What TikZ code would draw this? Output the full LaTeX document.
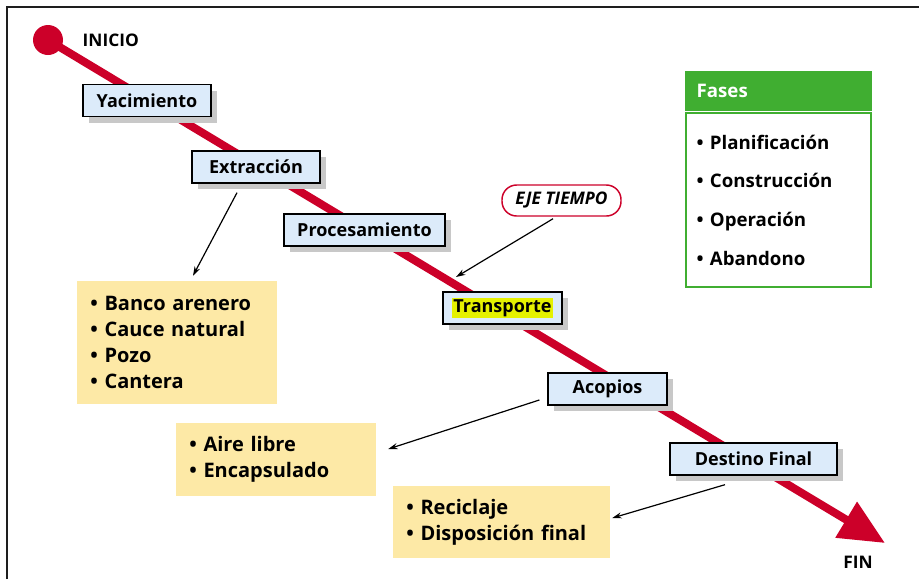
\documentclass[tikz,border=0pt]{standalone}
\usepackage{fontspec}
\setmainfont{Open Sans}
\usepackage{tikz}
\usetikzlibrary{calc,shadows,arrows.meta}

\definecolor{rojoeje}{RGB}{204,0,41}
\definecolor{azulclaro}{RGB}{220,235,250}
\definecolor{amarillo}{RGB}{253,233,166}
\definecolor{verdefases}{RGB}{64,174,49}
\definecolor{sombra}{RGB}{200,200,200}
\definecolor{resalte}{RGB}{229,241,0}

\begin{document}
\begin{tikzpicture}[x=0.75pt,y=0.75pt,yscale=-1,xscale=1,
  etapa/.style={draw=black, line width=1pt, fill=azulclaro, minimum height=24pt, inner sep=0pt,
    font=\fontsize{13.5}{15}\selectfont\bfseries,
    drop shadow={shadow xshift=4.5pt, shadow yshift=-4.5pt, fill=sombra, opacity=1}},
  lista/.style={fill=amarillo, inner xsep=10pt, inner ysep=0pt, align=left,
    font=\fontsize{15}{19.5}\selectfont\bfseries},
  flecha/.style={-{Stealth[length=7pt,width=4.5pt]}, line width=0.9pt},
  rotulo/.style={font=\fontsize{13}{15}\selectfont\bfseries}]
\useasboundingbox (0,0) rectangle (919,579);
%Straight Lines: frame
\draw [line width=1.5pt, color={rgb, 255:red, 30; green, 30; blue, 30}] (7,579) -- (7,7) -- (919,7) ;
%Shape: Circle
\node [circle, fill=rojoeje, minimum size=22.5pt, inner sep=0pt] (inicio) at (48,40) {};
\coordinate (fin) at (885,543);
%Straight Lines: eje
\draw [rojoeje, line width=6pt, -{Triangle[length=34pt,width=30pt]}] (inicio.center) -- (fin) ;
%Text Node
\node [rotulo, anchor=west] (txtinicio) at (78,40) {INICIO};
\node [rotulo] (txtfin) at (858,562) {FIN};
%Shape: Rectangle (etapas)
\node [etapa, minimum width=96pt] (yacimiento) at (147,100.5) {Yacimiento};
\node [etapa, minimum width=96pt] (extraccion) at (256,167) {Extracción};
\node [etapa, minimum width=120.75pt] (procesamiento) at (364.5,230) {Procesamiento};
\node [etapa, minimum width=89.25pt] (transporte) at (502.5,308) {{\setlength\fboxsep{1pt}\colorbox{resalte}{Transporte}}};
\node [etapa, minimum width=89.25pt] (acopios) at (607.5,389) {Acopios};
\node [etapa, minimum width=125.25pt] (destino) at (753.5,459) {Destino Final};
%Shape: Rectangle (listas)
\node [lista, text width=130pt, minimum height=92.25pt] (bancos) at (177,342.5) {• Banco arenero\\• Cauce natural\\• Pozo\\• Cantera};
\node [lista, text width=130pt, minimum height=54.75pt] (aire) at (276,459.5) {• Aire libre\\• Encapsulado};
\node [lista, text width=142.75pt, minimum height=54pt] (reciclaje) at (501.5,522) {• Reciclaje\\• Disposición final};
%Shape: Rounded Rect
\node [draw=rojoeje, line width=1.1pt, rounded corners=11pt, minimum width=89.25pt, minimum height=23.25pt,
  font=\fontsize{13}{15}\selectfont\bfseries\itshape] (eje) at (561.5,200.5) {EJE TIEMPO};
\coordinate (ptoeje) at (456,277);
%Shape: Rectangle (fases)
\node [draw=verdefases, line width=1.1pt, minimum height=130.5pt, text width=122.75pt, inner xsep=8pt, align=left,
  font=\fontsize{14}{29}\selectfont\bfseries] (fases) at (778.5,200) {• Planificación\\• Construcción\\• Operación\\• Abandono};
\node [fill=verdefases, draw=verdefases, line width=1.1pt, minimum height=28.5pt, text width=122.75pt, inner xsep=8pt, align=left,
  text=white, font=\fontsize{14}{15}\selectfont\bfseries] (fasestit) at (778.5,91) {Fases};
%Straight Lines: flechas
\draw [flecha] ($(extraccion.south)+(-19,9)$) -- ($(bancos.north)+(16,-5)$) ;
\draw [flecha] ($(eje.south)+(-8.5,2)$) -- (ptoeje) ;
\draw [flecha] ($(acopios.west)+(-8,11)$) -- ($(aire.east)+(12,-10.5)$) ;
\draw [flecha] ($(destino.south)+(-28.5,9)$) -- ($(reciclaje.east)+(2,-4)$) ;
\end{tikzpicture}
\end{document}
